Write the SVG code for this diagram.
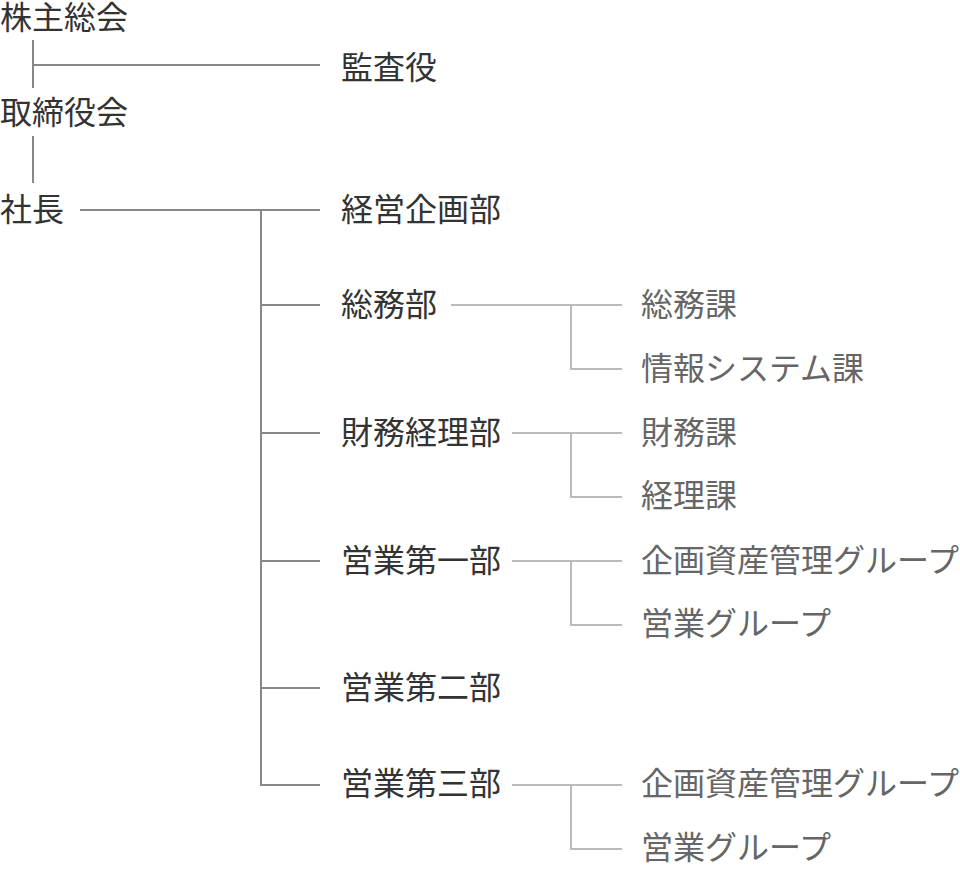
<svg xmlns="http://www.w3.org/2000/svg" width="960" height="870" viewBox="0 0 960 870">
<style>
text{font-family:"Noto Sans CJK JP","Noto Sans CJK SC",sans-serif;font-size:32px;dominant-baseline:central}
.l1,.l2{fill:#333}
.l3{fill:#666}
.m{stroke:#888;stroke-width:2;fill:none}
.s{stroke:#bbb;stroke-width:2;fill:none}
</style>
<rect width="960" height="870" fill="#fff"/>
<g id="connectors">
<path class="m" d="M33 40V88M33 65H320M33 136V183M80 210H320M261 210V786M261 305H320M261 433H320M261 561H320M261 688H320M261 785H320"/>
<path class="s" d="M451 305H622M571 305V369H622M512 433H622M571 433V497H622M512 561H622M571 561V625H622M512 785H622M571 785V849H622"/>
</g>
<g id="n-kabunushi"><text class="l1" x="0" y="15">株主総会</text></g>
<g id="n-kansa"><text class="l2" x="341" y="65">監査役</text></g>
<g id="n-torishimariyaku"><text class="l1" x="0" y="110">取締役会</text></g>
<g id="n-shacho"><text class="l1" x="0" y="207">社長</text></g>
<g id="n-keiei"><text class="l2" x="341" y="207">経営企画部</text></g>
<g id="n-somubu"><text class="l2" x="341" y="302">総務部</text></g>
<g id="n-somuka"><text class="l3" x="641" y="302">総務課</text></g>
<g id="n-joho"><text class="l3" x="641" y="366">情報システム課</text></g>
<g id="n-zaimubu"><text class="l2" x="341" y="430">財務経理部</text></g>
<g id="n-zaimuka"><text class="l3" x="641" y="430">財務課</text></g>
<g id="n-keirika"><text class="l3" x="641" y="493">経理課</text></g>
<g id="n-eigyo1"><text class="l2" x="341" y="558">営業第一部</text></g>
<g id="n-kikaku1"><text class="l3" x="641" y="558">企画資産管理グループ</text></g>
<g id="n-eigyog1"><text class="l3" x="641" y="621">営業グループ</text></g>
<g id="n-eigyo2"><text class="l2" x="341" y="685">営業第二部</text></g>
<g id="n-eigyo3"><text class="l2" x="341" y="781">営業第三部</text></g>
<g id="n-kikaku3"><text class="l3" x="641" y="781">企画資産管理グループ</text></g>
<g id="n-eigyog3"><text class="l3" x="641" y="845">営業グループ</text></g>
</svg>
